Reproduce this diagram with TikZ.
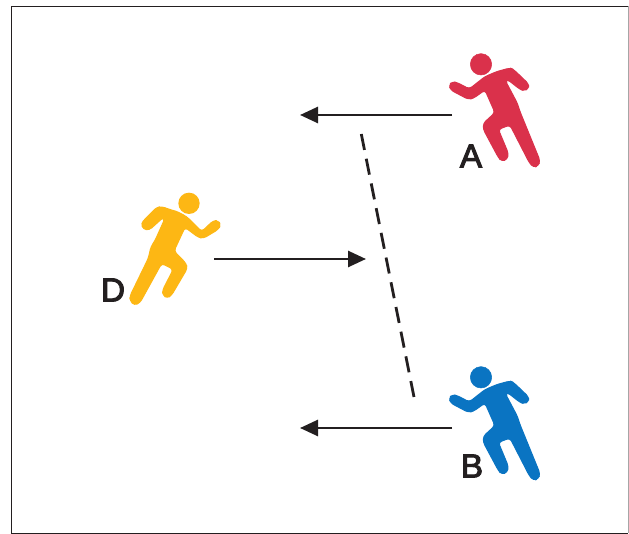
\documentclass[tikz,border=0pt]{standalone}
\usepackage{fontspec}
\setmainfont{Liberation Sans}
\usetikzlibrary{arrows.meta}
\definecolor{ink}{HTML}{231F20}
\definecolor{redrun}{HTML}{DA314B}
\definecolor{bluerun}{HTML}{0A74C2}
\definecolor{yellowrun}{HTML}{FDB714}
\newfontfamily\lblfont[FakeBold=3]{Liberation Sans}
\tikzset{
  x=0.75pt,y=-0.75pt,
  flow/.style={draw=ink,line width=2pt,-{Triangle[length=13.5pt,width=12pt]}},
  wall/.style={draw=ink,line width=2.1pt,dash pattern=on 12.2pt off 6.7pt},
  lbl/.style={font=\lblfont\fontsize{25pt}{25pt}\selectfont,text=ink,inner sep=0pt},
  body/.style={rounded corners=2.4pt,line width=0.8pt,line join=round},
  zoomgrid/.style={x=0.25pt,y=-0.25pt},
  runnerA/.pic={
    \begin{scope}[shift={(430,40)},zoomgrid]
    \fill[pic actions] (153,73) circle (8pt);
    \filldraw[pic actions,body] (57,135) -- (68,125) -- (82,128) -- (118,147) -- (165,110) -- (200,95) -- (240,84) -- (250,88) -- (296,132) -- (296,146) -- (282,152) -- (270,148) -- (232,118) -- (226,122) -- (262,190) -- (270,215) -- (330,362) -- (325,378) -- (310,382) -- (298,368) -- (240,255) -- (205,268) -- (235,340) -- (232,358) -- (215,364) -- (205,352) -- (160,268) -- (160,250) -- (195,218) -- (165,150) -- (130,175) -- (115,178) -- (62,150) -- cycle;
    \end{scope}
  }
}
\begin{document}
\begin{tikzpicture}
\useasboundingbox (0,0) rectangle (629,534);
\fill[white] (0,0) rectangle (629,534);
\draw[gray!70,line width=0.6pt] (628.3,6) -- (628.3,533);
\draw[ink,line width=0.7pt] (628,6) -- (11,6) -- (11,533) -- (628,533);
\coordinate (a1) at (452,115); \coordinate (a2) at (300,115);
\coordinate (d1) at (214,259); \coordinate (d2) at (366,259);
\coordinate (b1) at (452,428); \coordinate (b2) at (300,428);
\coordinate (w1) at (361.3,134); \coordinate (w2) at (414,397);
\draw[flow] (a1) -- (a2);
\draw[flow] (d1) -- (d2);
\draw[flow] (b1) -- (b2);
\draw[wall] (w1) -- (w2);
\pic[fill=redrun,draw=redrun] at (0,0) {runnerA};
\pic[fill=bluerun,draw=bluerun] at (0,313) {runnerA};
% runner D
\begin{scope}[shift={(90,180)},zoomgrid,fill=yellowrun,draw=yellowrun]
\fill (297,70) circle (8pt);
\filldraw[body] (153,130) -- (200,82) -- (215,80) -- (250,92) -- (262,95) -- (290,110) -- (335,155) -- (370,122) -- (385,122) -- (392,135) -- (385,148) -- (340,175) -- (325,172) -- (285,142) -- (252,213) -- (288,250) -- (292,265) -- (245,345) -- (232,355) -- (218,345) -- (218,330) -- (250,268) -- (215,250) -- (150,368) -- (133,376) -- (120,362) -- (120,348) -- (175,235) -- (183,200) -- (195,182) -- (225,115) -- (220,112) -- (178,150) -- (160,148) -- cycle;
\end{scope}
\node[lbl] (A) at (471,156) {A};
\node[lbl] (B) at (472,466) {B};
\node[lbl] (D) at (113,290) {D};
\end{tikzpicture}
\end{document}
